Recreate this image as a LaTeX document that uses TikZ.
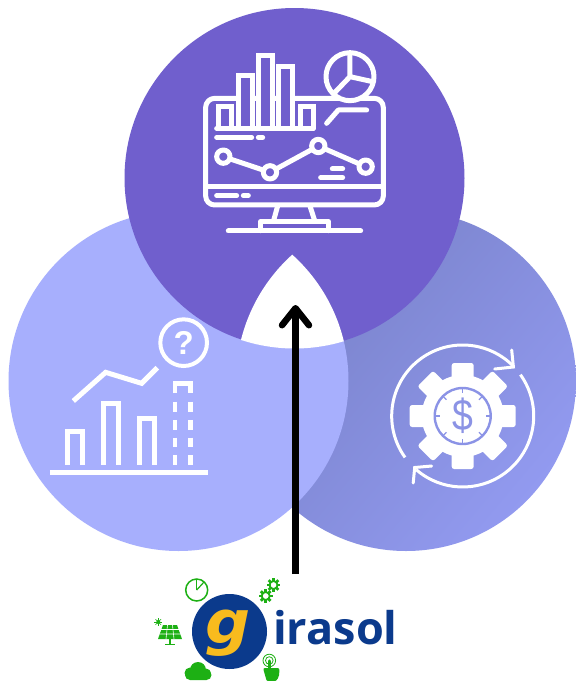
\documentclass[tikz,border=0pt]{standalone}
\usepackage{fontspec}
\setmainfont{Liberation Sans}
\newfontfamily\logofont{Open Sans}
\newfontfamily\gfont{DejaVu Sans}
\usetikzlibrary{arrows.meta}
\definecolor{topP}{HTML}{705FCD}
\definecolor{leftP}{HTML}{A7AFFD}
\definecolor{darkP}{HTML}{7780C6}
\definecolor{lightP}{HTML}{929AF0}
\definecolor{logoB}{HTML}{0B3A8C}
\definecolor{logoY}{HTML}{F8BB1E}
\definecolor{logoG}{HTML}{1DB014}
\tikzset{
  ic/.style={draw=white,line width=#1,line cap=round,line join=round},
  ic/.default=4pt,
  icb/.style={draw=white,line width=#1,line cap=butt,line join=miter},
  icb/.default=5pt,
}
\begin{document}
\begin{tikzpicture}[x=1pt,y=-1pt]
\useasboundingbox (0,0) rectangle (576,681);
\fill[white] (0,0) rectangle (576,681);
% three circles
\shade[top color=darkP,bottom color=lightP,shading angle=50] (406,381) circle (170);
\fill[leftP] (178.5,381) circle (170);
\fill[topP] (294.5,178) circle (170);
\begin{scope}
  \clip (406,381) circle (170);
  \clip (178.5,381) circle (170);
  \fill[white] (294.5,178) circle (170.5);
\end{scope}

% ---- monitor icon
\begin{scope}[shift={(190,40)},x=0.3333pt,y=-0.3333pt]
  \draw[ic=5pt,rounded corners=9pt] (47,175) rectangle (580,495);
  \draw[ic=5pt] (47,440) -- (580,440);
  \foreach \a/\b/\t in {85/125/200,147/187/105,207/247/45,267/307/80,333/370/200}
    \draw[ic=5pt,fill=topP,line join=miter] (\a,265) -- (\a,\t) -- (\b,\t) -- (\b,265);
  \draw[ic=5pt] (80,265) -- (370,265);
  \draw[ic=5pt,fill=topP] (480,110) circle (72);
  \draw[ic=5pt] (480,40) -- (480,110) -- (548,125) (480,110) -- (432,160);
  \draw[ic=5pt] (410,250) -- (445,210) -- (530,210);
  \draw[ic=5pt] (80,292) -- (185,292) (205,292) -- (218,292);
  \draw[ic=5pt] (100,350) -- (240,397) -- (385,318) -- (527,380);
  \foreach \x/\y in {100/350,240/397,385/318,527/380}
    \draw[ic=5pt,fill=topP] (\x,\y) circle (20);
  \draw[ic=5pt] (427,387) -- (458,387) (392,413) -- (458,413);
  \draw[ic=5pt] (80,467) -- (140,467) (160,467) -- (175,467);
  \draw[ic=5pt,line cap=butt] (263,498) -- (250,545) (360,498) -- (375,545);
  \draw[ic=5pt] (212,572) -- (212,545) -- (415,545) -- (415,572);
  \draw[ic=5pt] (115,573) -- (512,573);
\end{scope}

% ---- question icon
\begin{scope}[shift={(40,315)},x=0.3333pt,y=-0.3333pt]
  \draw[icb=4pt] (431,83) circle (70);
  \node (qmark) at (431,85) [text=white,inner sep=0pt,font=\fontsize{33}{33}\selectfont\bfseries] {?};
  \draw[icb=5pt] (100,258) -- (197,172) -- (305,205) -- (352,158);
  \foreach \a/\b/\t in {83/127/350,190/235/265,298/343/310}
    \draw[icb=4.5pt] (\a,450) -- (\a,\t) -- (\b,\t) -- (\b,450);
  \draw[icb=4.5pt] (405,235) -- (405,205) -- (452,205) -- (452,235);
  \foreach \p/\q in {260/290,315/345,368/396,420/450}
    \draw[icb=4.5pt] (405,\p) -- (405,\q) (452,\p) -- (452,\q);
  \draw[icb=5.5pt] (30,473) -- (505,473);
\end{scope}

% ---- gear icon
\begin{scope}[shift={(462.7,416)}]
  \fill[white] (0,0) circle (41);
  \foreach \r in {0,45,...,315}
    \fill[white,rotate=\r,rounded corners=2.5pt] (-11,-53) rectangle (11,0);
  \draw[draw=lightP!75!darkP,line width=2.4pt] (0,0) circle (28);
  \foreach \r in {0,45,...,315}
    \draw[draw=lightP!75!darkP,line width=1.3pt,rotate=\r] (0,-28) -- (0,-23);
  \node (dollar) at (0,0) [text=lightP!75!darkP,inner sep=0pt,xscale=.85,font=\fontsize{44}{44}\selectfont] {\$};
  \draw[white,line width=3pt] (215.7:71pt) arc[start angle=215.7,end angle=44,radius=71pt];
  \draw[white,line width=3pt] (35.6:71pt) arc[start angle=35.6,end angle=-131,radius=71pt];
  \draw[white,line width=3pt,line cap=round,line join=miter] (49,-66) -- (50.7,-49) -- (32,-47);
  \draw[white,line width=3pt,line cap=round,line join=miter] (-31,50) -- (-48,51.5) -- (-49.5,67);
\end{scope}

% ---- arrow
\coordinate (arrowstart) at (295.5,574);
\coordinate (arrowend) at (295.5,305);
\draw[black,line width=6.5pt,-{Straight Barb[round,length=17pt,width=27pt,line width=6.5pt]}] (arrowstart) -- (arrowend);

% ---- logo
\fill[logoB] (229.5,631.5) circle (37.5);
\node (logog) at (205,643) [anchor=base west,text=logoY,inner sep=0pt,xscale=1.05,font=\gfont\fontsize{60}{60}\selectfont\bfseries\itshape] {g};
\node (logotext) at (273,644) [anchor=base west,text=logoB,inner sep=0pt,font=\logofont\fontsize{45}{45}\selectfont\bfseries] {irasol};
% clock
\draw[logoG,line width=1.5pt] (196.7,590) circle (11);
\draw[logoG,line width=1.2pt] (196.7,590) -- (196.7,579);
\draw[logoG,line width=1.2pt] (196.7,590) -- (204,582);
% gears
\foreach \x/\y/\s in {273.5/585/6.8,265.7/596/6.8}{
  \foreach \r in {0,45,...,315}
    \fill[logoG,rotate around={\r:(\x,\y)}] (\x-1.4,\y-\s) rectangle (\x+1.4,\y-3);
  \draw[logoG,line width=1.8pt] (\x,\y) circle (\s-2.8);
}
% solar panel
\fill[logoG] (163,625) -- (177,625) -- (182,639) -- (158,639) -- cycle;
\draw[white,line width=0.6pt] (160.8,629.5) -- (179,629.5) (159.5,634) -- (180.5,634)
  (167.5,625) -- (166,639) (172.5,625) -- (174,639);
\draw[logoG,line width=1.2pt] (170,639) -- (170,644) (165,644.3) -- (175,644.3);
% sun
\fill[logoG] (158.3,622) circle (2);
\foreach \r in {0,45,...,315}
  \draw[logoG,line width=0.5pt] (158.3,622) -- +(\r:4pt);
% cloud
\fill[logoG,rounded corners=5pt] (185,680) rectangle (211.5,670);
\fill[logoG] (198,670) circle (8) (190,673) circle (5.5) (206,673.5) circle (5);
% hand
\draw[logoG,line width=0.8pt] (269.3,660.5) circle (6.3);
\draw[logoG,line width=0.8pt] (269.3,660.5) circle (3.8);
\draw[logoG,line width=3.2pt,line cap=round] (269.3,661) -- (269.3,670);
\fill[logoG,rounded corners=2pt] (263,668) -- (279.5,668) -- (279,677) -- (275,682) -- (267,682) -- cycle;
\end{tikzpicture}
\end{document}
